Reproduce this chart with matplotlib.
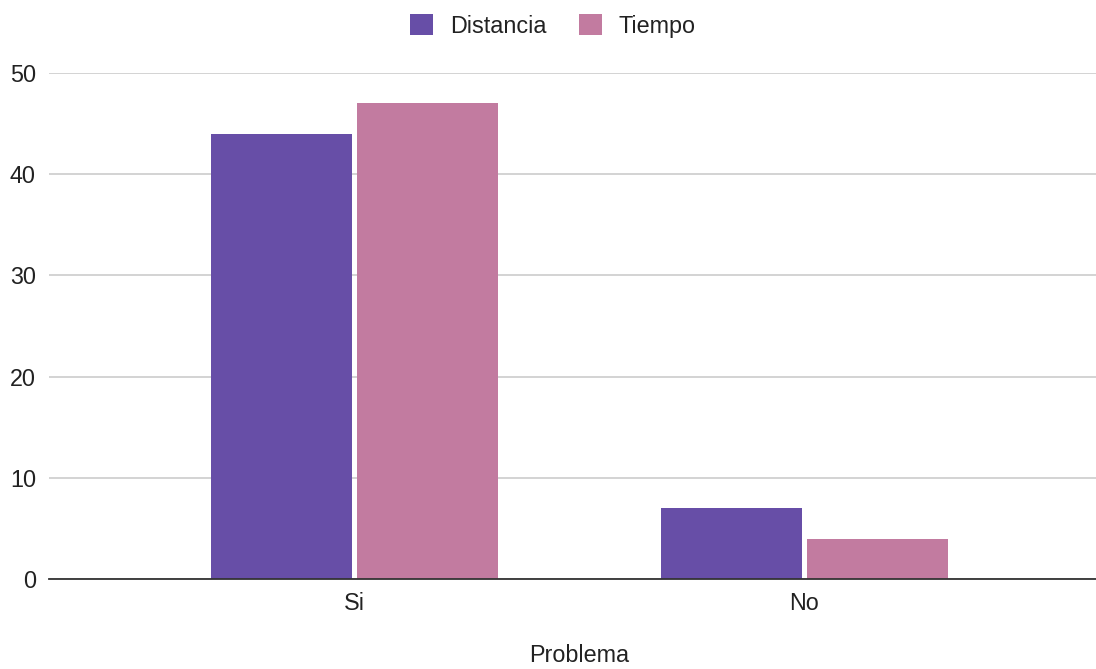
import numpy as np
import matplotlib.pyplot as plt
from matplotlib.patches import Patch

plt.rcParams['font.family'] = ['Liberation Sans', 'DejaVu Sans']

categories = ['Si', 'No']
distancia = [44, 7]
tiempo = [47, 4]
y_ticks = [0, 10, 20, 30, 40, 50]

purple = '#674ea7'
pink = '#c27ba0'
text_color = '#222222'
fs = 16.8


def main():
    fig = plt.figure(figsize=(10.96, 6.69), dpi=100)
    ax = fig.add_axes([49 / 1096, 1 - 579 / 669, 1 - 49 / 1096, (579 - 73) / 669])

    x = np.arange(len(categories))
    w = 0.313
    off = 0.163
    ax.bar(x - off, distancia, w, color=purple, zorder=3)
    ax.bar(x + off, tiempo, w, color=pink, zorder=3)

    ax.set_xlim(-0.679, 1.648)
    ax.set_ylim(0, 50)
    ax.set_yticks(y_ticks)
    ax.set_xticks(x)
    ax.set_xticklabels(categories)
    ax.tick_params(axis='both', length=0, labelsize=fs, colors=text_color)
    ax.tick_params(axis='y', pad=9.4)
    ax.tick_params(axis='x', pad=9)

    ax.grid(axis='y', color='#cccccc', linewidth=1.2, zorder=0)
    for s in ['top', 'right', 'left']:
        ax.spines[s].set_visible(False)
    ax.spines['bottom'].set_color('#333333')
    ax.spines['bottom'].set_linewidth(1.3)
    ax.spines['bottom'].set_zorder(4)

    # axis title sits right at the bottom edge
    fig.text(579 / 1096, 1 - 667 / 669, 'Problema', ha='center', va='bottom',
             fontsize=fs, color=text_color)

    handles = [Patch(facecolor=purple, label='Distancia'),
               Patch(facecolor=pink, label='Tiempo')]
    fig.legend(handles=handles, loc='center', bbox_to_anchor=(553 / 1096, 1 - 26 / 669),
               ncol=2, frameon=False, fontsize=fs, handlelength=0.97, handleheight=0.97,
               handletextpad=0.72, columnspacing=1.4, labelcolor=text_color)

    fig.savefig('out.png', dpi=100, facecolor='white')


if __name__ == "__main__":
    main()
